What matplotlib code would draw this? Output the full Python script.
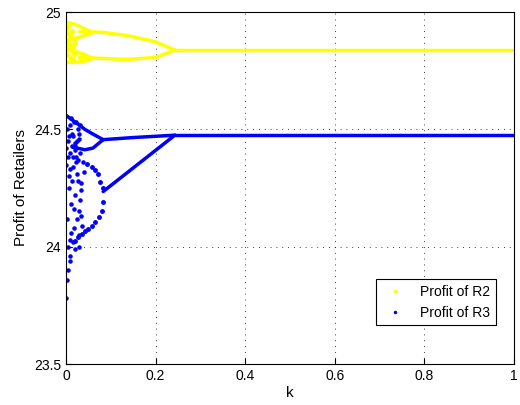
import matplotlib
matplotlib.use('Agg')
import matplotlib.pyplot as plt
from matplotlib.lines import Line2D

plt.rcParams['font.family'] = ['Liberation Sans', 'DejaVu Sans']

# R2 (yellow) branches: k values and profits
r2_stable_k = [0.243, 1.0]
r2_stable_y = [24.838, 24.838]
r2_upper_k = [0.243, 0.2, 0.135, 0.083, 0.046, 0.03]
r2_upper_y = [24.838, 24.873, 24.900, 24.913, 24.916, 24.915]
r2_lower_k = [0.243, 0.2, 0.135, 0.083, 0.046, 0.03]
r2_lower_y = [24.838, 24.806, 24.798, 24.802, 24.805, 24.806]
r2_split_k = [0.06, 0.04, 0.024, 0.012, 0.0]
r2_split_a = [24.913, 24.93, 24.945, 24.952, 24.957]
r2_split_b = [24.913, 24.898, 24.89, 24.885, 24.88]
r2_split_c = [24.802, 24.82, 24.83, 24.835, 24.84]
r2_split_d = [24.802, 24.79, 24.786, 24.785, 24.787]
# scattered R2 points near k = 0
r2_chaos_k = [0.002, 0.005, 0.008, 0.011, 0.014, 0.017, 0.02, 0.003, 0.006, 0.009,
              0.012, 0.015, 0.018, 0.001, 0.004, 0.007, 0.01, 0.013, 0.016, 0.019]
r2_chaos_y = [24.93, 24.87, 24.9, 24.86, 24.92, 24.88, 24.87, 24.82, 24.85, 24.81,
              24.84, 24.8, 24.82, 24.95, 24.91, 24.94, 24.9, 24.8, 24.85, 24.83]

# R3 (blue) branches
r3_stable_k = [0.243, 1.0]
r3_stable_y = [24.475, 24.475]
r3_upper_k = [0.243, 0.15, 0.083]
r3_upper_y = [24.475, 24.465, 24.456]
r3_lower_k = [0.243, 0.083]
r3_lower_y = [24.475, 24.235]
r3_ua_k = [0.083, 0.06, 0.042, 0.025, 0.01, 0.0]
r3_ua_y = [24.456, 24.48, 24.50, 24.525, 24.545, 24.56]
r3_ub_k = [0.083, 0.06, 0.042, 0.025, 0.015]
r3_ub_y = [24.456, 24.42, 24.413, 24.42, 24.424]
# period-4 arcs below, drawn as separate dots
r3_la_k = [0.082, 0.077, 0.072, 0.065, 0.057, 0.046]
r3_la_y = [24.251, 24.275, 24.308, 24.325, 24.339, 24.353]
r3_lb_k = [0.082, 0.080, 0.074, 0.065, 0.057, 0.050, 0.042, 0.035, 0.027, 0.020]
r3_lb_y = [24.189, 24.154, 24.125, 24.104, 24.09, 24.076, 24.066, 24.054, 24.04, 24.026]

# scattered (chaotic) R3 points near k = 0
r3_chaos_k = [0.0, 0.002, 0.004, 0.006, 0.008, 0.01, 0.012, 0.014, 0.016, 0.018,
              0.02, 0.022, 0.024, 0.026, 0.028, 0.03, 0.032, 0.034, 0.002, 0.005,
              0.008, 0.011, 0.014, 0.017, 0.02, 0.023, 0.026, 0.029, 0.032, 0.001,
              0.004, 0.007, 0.01, 0.013, 0.016, 0.019, 0.022, 0.025, 0.028, 0.031,
              0.0, 0.003, 0.006, 0.009, 0.012, 0.015, 0.018, 0.021, 0.024, 0.027,
              0.03, 0.034, 0.037, 0.04, 0.036, 0.033, 0.02, 0.01, 0.005, 0.015]
r3_chaos_y = [23.78, 23.86, 24.0, 24.3, 23.94, 23.96, 24.18, 24.28, 24.02, 24.08,
              24.22, 24.36, 24.12, 24.28, 24.0, 24.05, 24.2, 24.13, 24.5, 24.45,
              24.4, 24.55, 24.48, 24.53, 24.44, 24.38, 24.5, 24.46, 24.52, 24.42,
              24.38, 24.47, 24.52, 24.43, 24.47, 24.41, 24.53, 24.45, 24.48, 24.4,
              24.35, 24.12, 24.25, 24.33, 24.06, 24.38, 24.16, 23.99, 24.31, 24.37,
              24.15, 24.24, 24.36, 24.32, 24.09, 24.27, 24.43, 24.03, 23.9, 24.34]

yellow = '#ffff00'
blue = '#0000ff'

fig = plt.figure(figsize=(5.2, 4.05), dpi=100)
ax = fig.add_axes([66 / 520, 1 - 364 / 405, 448 / 520, 352 / 405])

for k, y in [(r2_stable_k, r2_stable_y), (r2_upper_k, r2_upper_y), (r2_lower_k, r2_lower_y),
             (r2_split_k, r2_split_a), (r2_split_k, r2_split_b),
             (r2_split_k, r2_split_c), (r2_split_k, r2_split_d)]:
    ax.plot(k, y, '-', color=yellow, lw=2.5, solid_capstyle='round')
ax.plot(r2_chaos_k, r2_chaos_y, '.', color=yellow, ms=5)

for k, y in [(r3_stable_k, r3_stable_y), (r3_upper_k, r3_upper_y), (r3_lower_k, r3_lower_y),
             (r3_ua_k, r3_ua_y), (r3_ub_k, r3_ub_y)]:
    ax.plot(k, y, '-', color=blue, lw=2.5, solid_capstyle='round')
ax.plot(r3_la_k, r3_la_y, '.', color=blue, ms=5)
ax.plot(r3_lb_k, r3_lb_y, '.', color=blue, ms=5)
ax.plot(r3_chaos_k, r3_chaos_y, '.', color=blue, ms=4.5)

ax.set_xlim(0, 1)
ax.set_ylim(23.5, 25)
ax.set_xticks([0, 0.2, 0.4, 0.6, 0.8, 1])
ax.set_xticklabels(['0', '0.2', '0.4', '0.6', '0.8', '1'])
ax.set_yticks([23.5, 24, 24.5, 25])
ax.set_yticklabels(['23.5', '24', '24.5', '25'])
ax.grid(True, color='black', linestyle=(0, (1, 6)), linewidth=0.6)
ax.tick_params(direction='in', labelsize=10, length=4)
ax.set_xlabel('k', fontsize=11, labelpad=2)
ax.set_ylabel('Profit of Retailers', fontsize=11)

handles = [Line2D([], [], ls='none', marker='.', ms=3, color=yellow),
           Line2D([], [], ls='none', marker='.', ms=3, color=blue)]
leg = ax.legend(handles, ['Profit of R2', 'Profit of R3'], loc='lower right',
                bbox_to_anchor=(0.975, 0.09), fancybox=False, edgecolor='black',
                framealpha=1, fontsize=10)
leg.get_frame().set_linewidth(0.8)

fig.savefig('out.png', dpi=100)
